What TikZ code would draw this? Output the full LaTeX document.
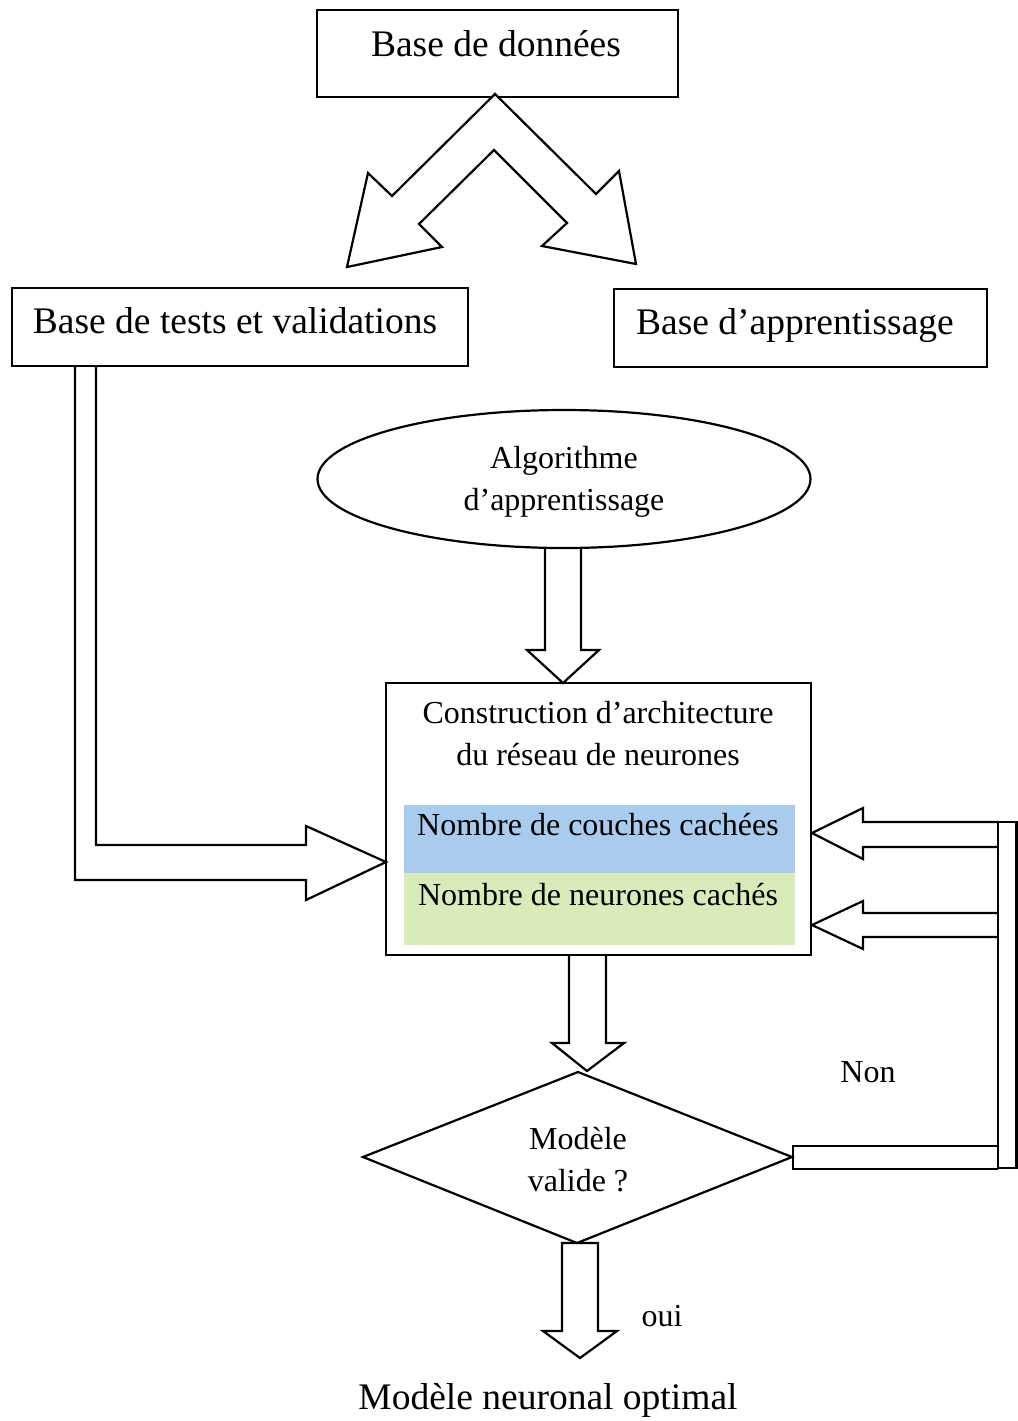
\documentclass[tikz,border=0pt]{standalone}
\usepackage{fontspec}
\setmainfont{Liberation Serif}
\usetikzlibrary{shapes.geometric}
\definecolor{bandblue}{HTML}{A8CBEE}
\definecolor{bandgreen}{HTML}{D8EBB8}
\begin{document}
\begin{tikzpicture}[x=0.5pt,y=-0.5pt, line width=1.1pt, line join=miter,
  bigtxt/.style={font=\fontsize{18.75}{22}\selectfont},
  txt/.style={font=\fontsize{16}{21}\selectfont, align=center, inner sep=0pt},
  box/.style={draw, rectangle, inner sep=0pt},
  blockarrow/.style={draw, fill=white}]
\useasboundingbox (0,0) rectangle (1018,1421);

% boxes
\node[box, minimum width=180.5pt, minimum height=43.5pt] (db) at (497.5,53.5) {};
\node[bigtxt, inner sep=0pt] (dbtxt) at (496,44) {Base de données};
\node[box, minimum width=228pt, minimum height=39pt] (tests) at (240,327) {};
\node[bigtxt, inner sep=0pt] (teststxt) at (235,321) {Base de tests et validations};
\node[box, minimum width=186.5pt, minimum height=39pt] (appr) at (800.5,328) {};
\node[bigtxt, inner sep=0pt] (apprtxt) at (795,326) {Base d’apprentissage};
\node[draw, ellipse, inner sep=0pt, minimum width=246.5pt, minimum height=69pt] (algo) at (564,479) {};
\node[txt] (algotxt) at (564,482) {Algorithme\\d’apprentissage};

% construction box with bands
\fill[bandblue] (404,805) rectangle (795,873);
\fill[bandgreen] (404,873) rectangle (795,945);
\node[draw, rectangle, inner sep=0pt, minimum width=212.5pt, minimum height=136pt] (constr) at (598.5,819) {};
\node[txt] (constrtxt) at (598,734) {Construction d’architecture\\du réseau de neurones};
\node[txt] (couches) at (598,825) {Nombre de couches cachées};
\node[txt] (neurones) at (598,895) {Nombre de neurones cachés};

% decision diamond
\coordinate (dtop) at (578,1072);
\coordinate (dleft) at (363,1157);
\coordinate (dright) at (792,1157);
\coordinate (dbot) at (577,1243);
\draw (dtop) -- (dright) -- (dbot) -- (dleft) -- cycle;
\node[txt] (valide) at (578,1160) {Modèle\\valide ?};

% labels
\node[txt] (non) at (868,1072) {Non};
\node[txt] (oui) at (662,1316) {oui};
\node[bigtxt, inner sep=0pt] (optimal) at (548,1400) {Modèle neuronal optimal};

% double block arrow from database
\draw[blockarrow] (495,94) -- (392,196) -- (368,173) -- (347,267) -- (442,247) -- (419,224)
  -- (494,150) -- (567,223) -- (542,246) -- (636,264) -- (619,171) -- (596,194) -- cycle;

% left path: tests -> construction
\draw (75,366) -- (75,880) -- (306,880) -- (306,900) -- (386,862) -- (306,826) -- (306,845) -- (96,845) -- (96,366);

% algo -> construction
\draw (545,548) -- (545,650) -- (527,650) -- (563,683) -- (599,650) -- (581,650) -- (581,548);

% construction -> diamond
\draw (569,955) -- (569,1043) -- (552,1043) -- (587,1071) -- (624,1043) -- (606,1043) -- (606,955);

% diamond -> optimal (oui)
\draw (562,1243) -- (598,1243) -- (598,1331) -- (617,1331) -- (580,1358) -- (543,1331) -- (562,1331) -- cycle;

% feedback (Non)
\draw (998,1146) -- (793,1146) -- (793,1169) -- (998,1169);
\draw (998,822) rectangle (1016.5,1168);
\draw (998,822) -- (863,822) -- (863,808) -- (812,833) -- (863,859) -- (863,847) -- (998,847);
\draw (998,913) -- (863,913) -- (863,901) -- (812,925) -- (863,949) -- (863,937) -- (998,937);
\end{tikzpicture}
\end{document}
